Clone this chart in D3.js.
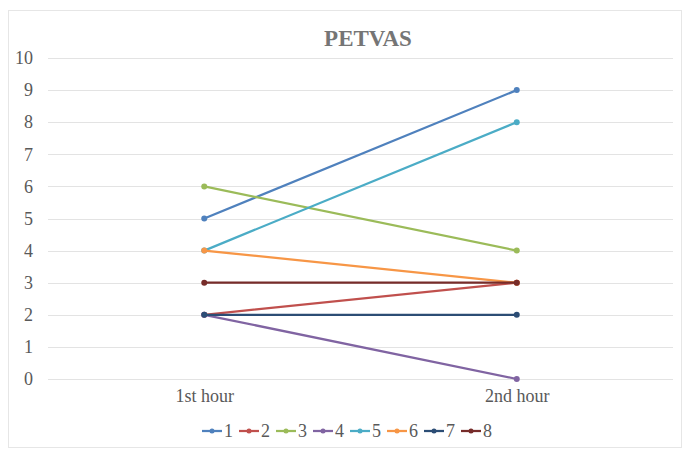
<!DOCTYPE html>
<html>
<head>
<meta charset="utf-8">
<script src="https://cdn.jsdelivr.net/npm/d3@7"></script>
<style>
  body { margin: 0; background: #fff; }
  text { font-family: "Liberation Serif", "Times New Roman", serif; }
</style>
</head>
<body>
<svg id="chart" width="691" height="457"></svg>
<script>
// data
const categories = ["1st hour", "2nd hour"];
const seriesNames = ["1", "2", "3", "4", "5", "6", "7", "8"];
const seriesValues = [
    [5, 9],
    [2, 3],
    [6, 4],
    [2, 0],
    [4, 8],
    [4, 3],
    [2, 2],
    [3, 3]
];
const yTicks = [0, 1, 2, 3, 4, 5, 6, 7, 8, 9, 10];
const colors = ["#4F81BD", "#C0504D", "#9BBB59", "#8064A2", "#4BACC6", "#F79646", "#2C4D75", "#772C2A"];

const svg = d3.select("#chart");
// outer border
svg.append("rect")
    .attr("x", 8.5).attr("y", 10.5)
    .attr("width", 673).attr("height", 437)
    .attr("fill", "#fff")
    .attr("stroke", "#e6e6e6");

const plotLeft = 48, plotRight = 673, plotTop = 58, plotBottom = 379;
const x = d3.scalePoint()
    .domain(categories)
    .range([plotLeft, plotRight])
    .padding(0.5);
const y = d3.scaleLinear()
    .domain([0, 10])
    .range([plotBottom, plotTop]);

// title
svg.append("text")
    .attr("x", 368).attr("y", 46)
    .attr("text-anchor", "middle")
    .style("font-size", "23px")
    .attr("font-weight", "bold")
    .attr("fill", "#757575")
    .text("PETVAS");

// grid
svg.append("g")
    .selectAll("line")
    .data(yTicks)
    .enter().append("line")
    .attr("x1", plotLeft).attr("x2", plotRight)
    .attr("y1", d => Math.round(y(d)) + 0.5)
    .attr("y2", d => Math.round(y(d)) + 0.5)
    .attr("stroke", "#e3e3e3")
    .attr("stroke-width", 1);

// y axis labels
const yAxis = d3.axisLeft(y).tickValues(yTicks).tickSize(0).tickPadding(15);
const yG = svg.append("g")
    .attr("transform", `translate(${plotLeft},0)`)
    .call(yAxis);
yG.select(".domain").remove();
yG.selectAll("text")
    .style("font-family", "'Liberation Serif', serif")
    .style("font-size", "18px")
    .attr("fill", "#595959");

// x axis labels
const xAxis = d3.axisBottom(x).tickSize(0).tickPadding(10);
const xG = svg.append("g")
    .attr("transform", `translate(0,${plotBottom})`)
    .call(xAxis);
xG.select(".domain").remove();
xG.selectAll("text")
    .style("font-family", "'Liberation Serif', serif")
    .style("font-size", "18px")
    .attr("fill", "#595959");

// lines
const line = d3.line()
    .x((d, i) => x(categories[i]))
    .y(d => y(d));
const seriesG = svg.append("g")
    .selectAll("g")
    .data(seriesValues)
    .enter().append("g");
seriesG.append("path")
    .attr("d", d => line(d))
    .attr("fill", "none")
    .attr("stroke", (d, i) => colors[i])
    .attr("stroke-width", 2.25)
    .attr("stroke-linecap", "round");
seriesG.each(function (vals, si) {
    d3.select(this).selectAll("circle")
        .data(vals)
        .enter().append("circle")
        .attr("cx", (d, i) => x(categories[i]))
        .attr("cy", d => y(d))
        .attr("r", 3)
        .attr("fill", colors[si]);
});

// legend
const legend = svg.append("g")
    .attr("transform", "translate(202,431)");
const items = legend.selectAll("g")
    .data(seriesNames)
    .enter().append("g")
    .attr("transform", (d, i) => `translate(${i * 37},0)`);
items.append("line")
    .attr("x1", 0).attr("x2", 20)
    .attr("y1", 0).attr("y2", 0)
    .attr("stroke", (d, i) => colors[i])
    .attr("stroke-width", 2.25);
items.append("circle")
    .attr("cx", 10).attr("cy", 0).attr("r", 2.5)
    .attr("fill", (d, i) => colors[i]);
items.append("text")
    .attr("x", 22).attr("y", 6)
    .style("font-size", "18px")
    .attr("fill", "#595959")
    .text(d => d);
</script>
</body>
</html>
